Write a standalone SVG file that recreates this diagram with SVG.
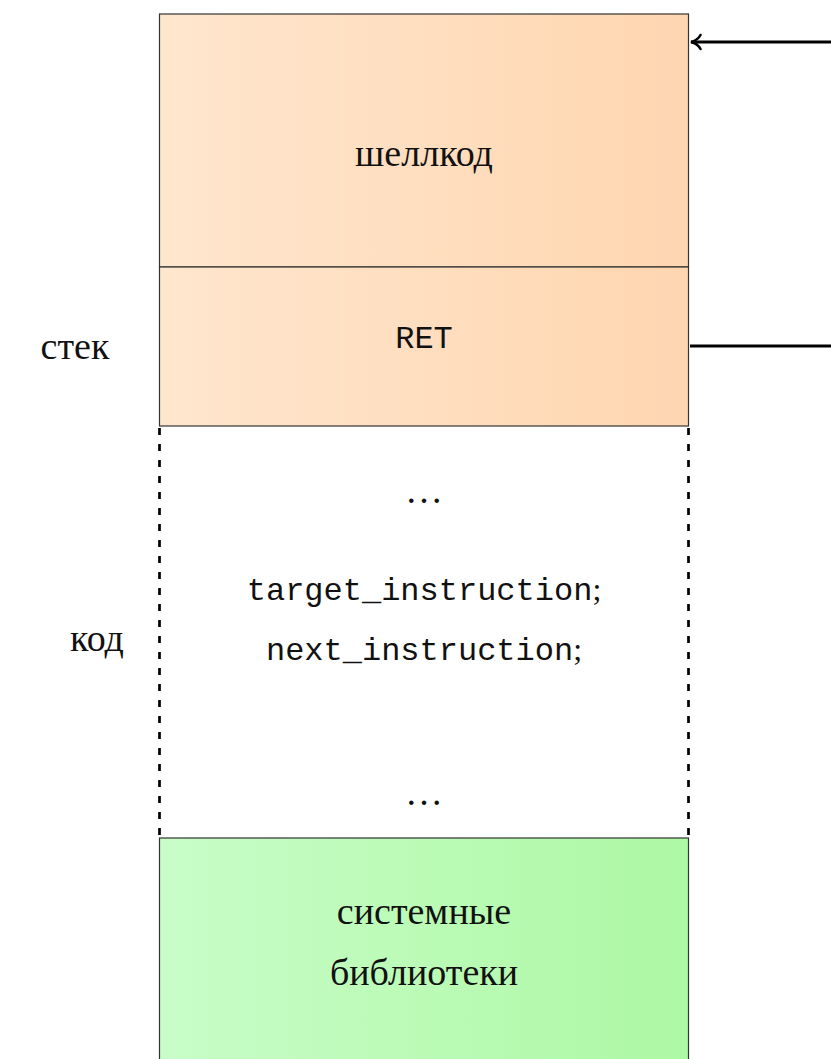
<svg xmlns="http://www.w3.org/2000/svg" width="831" height="1059" viewBox="0 0 831 1059">
  <defs>
    <linearGradient id="gradStack" x1="0" y1="0" x2="1" y2="0">
      <stop offset="0" stop-color="#FFE6CE"/>
      <stop offset="1" stop-color="#FFD6B0"/>
    </linearGradient>
    <linearGradient id="gradLib" x1="0" y1="0" x2="1" y2="0">
      <stop offset="0" stop-color="#C8FDC8"/>
      <stop offset="1" stop-color="#ADF8A4"/>
    </linearGradient>
    <!-- open arrowhead, tip at the end of the line -->
    <marker id="openArrow" viewBox="0 0 14 18" refX="12.5" refY="9" markerWidth="14" markerHeight="18" markerUnits="userSpaceOnUse" orient="auto">
      <path d="M3,2 Q6,7.5 12.5,9 Q6,10.5 3,16" fill="none" stroke="#000" stroke-width="2.6" stroke-linecap="round"/>
    </marker>
  </defs>
  <style>
    .block { stroke: #333; stroke-width: 1.2; }
    .serif { font-family: "Liberation Serif", "DejaVu Serif", serif; font-size: 38px; fill: #111; text-anchor: middle; }
    .mono { font-family: "Liberation Mono", "DejaVu Sans Mono", monospace; font-size: 32px; fill: #111; text-anchor: middle; }
    .semi { font-family: "Liberation Serif", serif; }
    .dashed { fill: none; stroke: #000; stroke-width: 2.7; stroke-dasharray: 7 9; }
    .link { fill: none; stroke: #000; stroke-width: 3; }
  </style>

  <rect width="831" height="1059" fill="#fff"/>

  <!-- shellcode block on the stack -->
  <g id="shellcode">
    <rect class="block" x="159.5" y="14" width="529" height="253" fill="url(#gradStack)"/>
    <text class="serif" x="424" y="166">шеллкод</text>
  </g>

  <!-- saved return address -->
  <g id="ret">
    <rect class="block" x="159.5" y="267" width="529" height="159" fill="url(#gradStack)"/>
    <text class="mono" x="424" y="348">RET</text>
  </g>

  <!-- code region (dashed sides) -->
  <g id="code">
    <line class="dashed" x1="159.5" y1="428" x2="159.5" y2="837"/>
    <line class="dashed" x1="688.5" y1="428" x2="688.5" y2="837"/>
    <text class="serif" x="424" y="503">…</text>
    <text class="mono" x="424" y="600">target_instruction<tspan class="semi">;</tspan></text>
    <text class="mono" x="424" y="660">next_instruction<tspan class="semi">;</tspan></text>
    <text class="serif" x="424" y="805">…</text>
  </g>

  <!-- system libraries block -->
  <g id="libs">
    <rect class="block" x="159.5" y="838" width="529" height="240" fill="url(#gradLib)"/>
    <text class="serif" x="424" y="924">системные</text>
    <text class="serif" x="424" y="985">библиотеки</text>
  </g>

  <!-- side labels -->
  <g id="label-stack">
    <text class="serif" x="75" y="359">стек</text>
  </g>
  <g id="label-code">
    <text class="serif" x="97" y="651">код</text>
  </g>

  <!-- return path from RET back into the shellcode -->
  <g id="connectors">
    <line class="link" x1="690" y1="346" x2="831" y2="346"/>
    <line class="link" x1="831" y1="42" x2="691" y2="42" marker-end="url(#openArrow)"/>
  </g>
</svg>
